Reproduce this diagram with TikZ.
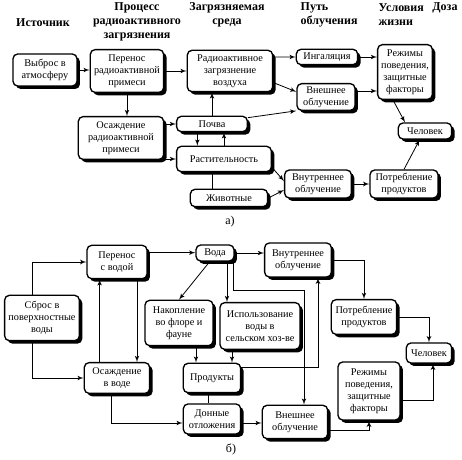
\documentclass[tikz,border=0pt]{standalone}
\usepackage{fontspec}
\setmainfont{Liberation Serif}
\usetikzlibrary{arrows, shadows, positioning}

\begin{document}
\begin{tikzpicture}[
    x=0.75pt, y=-0.75pt, % one unit = one pixel of the layout, y downwards
    >=latex',
    block/.style={rectangle, draw, line width=1pt, fill=white, rounded corners=3.5pt, align=center, inner sep=1pt, font=\fontsize{7.7}{9}\selectfont, drop shadow={shadow xshift=2.2pt, shadow yshift=-2.2pt, fill=black, opacity=1}},
    head/.style={align=center, font=\fontsize{9}{10.5}\selectfont\bfseries},
    tag/.style={font=\fontsize{9}{10}\selectfont},
    line/.style={draw, -latex', semithick},
    plainline/.style={draw, semithick}
]
    \useasboundingbox (0,0) rectangle (462,460);

    % Column headers
    \node[head] (hsource) at (43,23) {Источник};
    \node[head] (hprocess) at (137,22) {Процесс\\радиоактивного\\загрязнения};
    \node[head] (hmedium) at (227,15) {Загрязняемая\\среда};
    \node[head, anchor=west, align=left] (hpath) at (296,15) {Путь\\облучения};
    \node[head, anchor=west, align=left] (hlife) at (374,15) {Условия\\жизни};
    \node[head] (hdose) at (445,8) {Доза};

    % Part a)
    \node[block, minimum width=48pt, minimum height=24pt] (vybros) at (45,70) {Выброс в\\атмосферу};
    \node[block, minimum width=55pt, minimum height=32pt] (perenos) at (127,71) {Перенос\\радиоактивной\\примеси};
    \node[block, minimum width=64pt, minimum height=31pt] (vozduh) at (230,71) {Радиоактивное\\загрязнение\\воздуха};
    \node[block, minimum width=46pt, minimum height=11.5pt] (ingal) at (327,57) {Ингаляция};
    \node[block, minimum width=43.5pt, minimum height=20pt] (vneshn) at (326,97) {Внешнее\\облучение};
    \node[block, minimum width=41pt, minimum height=41pt] (rezhim) at (405,72) {Режимы\\поведения,\\защитные\\факторы};
    \node[block, minimum width=40pt, minimum height=12pt] (chelov) at (425,131) {Человек};
    \node[block, minimum width=64pt, minimum height=32pt] (osazhd) at (121,138) {Осаждение\\радиоактивной\\примеси};
    \node[block, minimum width=53pt, minimum height=11.5pt] (pochva) at (212,124) {Почва};
    \node[block, minimum width=71pt, minimum height=19pt] (rast) at (224,159) {Растительность};
    \node[block, minimum width=58pt, minimum height=13pt] (zhiv) at (229,198) {Животные};
    \node[block, minimum width=50pt, minimum height=21pt] (vnutr) at (318,184) {Внутреннее\\облучение};
    \node[block, minimum width=51pt, minimum height=21pt] (potr) at (404,184) {Потребление\\продуктов};
    \node[tag] (laba) at (230,222) {а)};

    \path[line] (vybros.east) -- (vybros.east -| perenos.west);
    \path[line] (perenos.east) -- (perenos.east -| vozduh.west);
    \path[line] (perenos.south) -- (perenos.south |- osazhd.north);
    \path[line] (pochva.north) -- (pochva.north |- vozduh.south);
    \path[line] (vozduh.18) -- (ingal.west);
    \path[line] (vozduh.-15) -- (vneshn.170);
    \path[line] (pochva.10) -- (vneshn.205);
    \path[line] (ingal.east) -- (ingal.east -| rezhim.west);
    \path[line] ([yshift=4.5pt]vneshn.east) -- ([yshift=4.5pt]vneshn.east -| rezhim.west);
    \path[line] ([xshift=-9pt]rezhim.south) -- ([xshift=-15pt]chelov.north);
    \path[line] (osazhd.east |- pochva.west) -- (pochva.west);
    \path[line] (osazhd.east |- rast.west) -- (rast.west);
    \path[line] ([xshift=-11pt]pochva.south) -- ([xshift=-11pt]pochva.south |- rast.north);
    \path[line] (rast.north) -- (rast.north |- pochva.south);
    \path[plainline] ([xshift=-9pt]rast.south) -- ([xshift=-9pt]rast.south |- zhiv.north);
    \path[line] (rast.-10) -- (vnutr.175);
    \path[line] (zhiv.east) -- (vnutr.190);
    \path[line] (vnutr.east) -- (potr.west);
    \path[line] (potr.north) -- ([xshift=-4pt]chelov.south);

    % Part b)
    \node[block, minimum width=45pt, minimum height=25pt] (perenosb) at (117,262) {Перенос\\с водой};
    \node[block, minimum width=28.5pt, minimum height=12pt] (vodab) at (215,253) {Вода};
    \node[block, minimum width=50pt, minimum height=25.5pt] (vnutrb) at (298,260) {Внутреннее\\облучение};
    \node[block, minimum width=56pt, minimum height=34pt] (sbros) at (42,318) {Сброс в\\поверхностные\\воды};
    \node[block, minimum width=51pt, minimum height=34pt] (nakopl) at (179,323) {Накопление\\во флоре и\\фауне};
    \node[block, minimum width=60pt, minimum height=35pt] (ispolz) at (260,326) {Использование\\воды в\\сельском хоз-ве};
    \node[block, minimum width=49pt, minimum height=26pt] (potrb) at (364,317) {Потребление\\продуктов};
    \node[block, minimum width=34pt, minimum height=15pt] (chelovb) at (429,353) {Человек};
    \node[block, minimum width=46.5pt, minimum height=43.5pt] (rezhimb) at (369,391) {Режимы\\поведения,\\защитные\\факторы};
    \node[block, minimum width=49pt, minimum height=23pt] (osazhdb) at (117,378) {Осаждение\\в воде};
    \node[block, minimum width=43pt, minimum height=22pt] (produkty) at (212,378) {Продукты};
    \node[block, minimum width=43pt, minimum height=22.5pt] (donnye) at (212,419) {Донные\\отложения};
    \node[block, minimum width=49pt, minimum height=25pt] (vneshnb) at (295,422) {Внешнее\\облучение};
    \node[tag] (labb) at (231,449) {б)};

    \path[line] ([xshift=-7pt]sbros.north) |- (perenosb.west);
    \path[line] ([xshift=-7pt]sbros.south) |- (osazhdb.west);
    \path[line] ([xshift=-13pt]osazhdb.north) -- ([xshift=-13pt]osazhdb.north |- perenosb.south);
    \path[line] ([xshift=15pt]perenosb.south) -- ([xshift=15pt]perenosb.south |- osazhdb.north);
    \path[line] ([yshift=7pt]perenosb.east) -- ([yshift=7pt]perenosb.east -| vodab.west);
    \path[line] (vodab.east) -- (vodab.east -| vnutrb.west);
    \path[line] ([xshift=-4pt]vodab.south) -- (nakopl.north);
    \path[line] ([xshift=9pt]vodab.south) -- ([xshift=9pt]vodab.south |- ispolz.north);
    \path[line] ([xshift=13.5pt]vodab.south) -- ++(0,29) -| ([xshift=6.75pt]vneshnb.north);
    \path[line] ([xshift=-12pt]produkty.north |- nakopl.south) -- ([xshift=-12pt]produkty.north);
    \path[line] ([xshift=15pt]produkty.north |- ispolz.south) -- ([xshift=15pt]produkty.north);
    \path[line] ([yshift=8pt]produkty.east) -| ([xshift=15pt]vnutrb.south);
    \path[plainline] ([xshift=-3pt]donnye.north) -- ([xshift=-3pt]produkty.south);
    \path[line] ([xshift=-4pt]osazhdb.south) |- ([yshift=-3pt]donnye.west);
    \path[line] ([yshift=-3pt]donnye.east) -- ([yshift=-3pt]donnye.east -| vneshnb.west);
    \path[line] (vnutrb.east) -| (potrb.north);
    \path[line] (potrb.east) -| (chelovb.north);
    \path[line] ([yshift=-6pt]vneshnb.east) -| (rezhimb.south);
    \path[line] ([yshift=-7pt]rezhimb.east) -| ([xshift=3pt]chelovb.south);

\end{tikzpicture}
\end{document}
